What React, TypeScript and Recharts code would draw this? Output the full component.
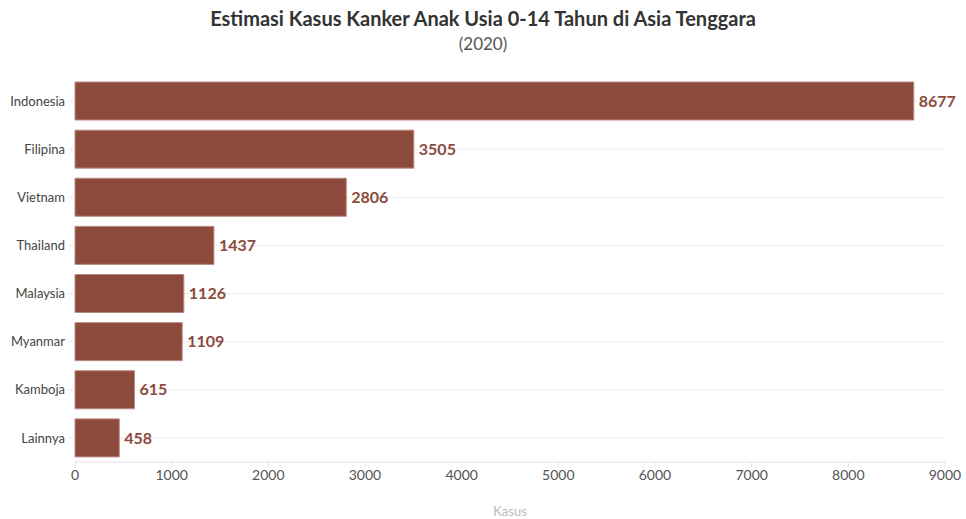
import { Bar, BarChart, CartesianGrid, LabelList, XAxis, YAxis } from "recharts";

const negara = ["Indonesia", "Filipina", "Vietnam", "Thailand", "Malaysia", "Myanmar", "Kamboja", "Lainnya"];
const kasus = [8677, 3505, 2806, 1437, 1126, 1109, 615, 458];
const xTicks = [0, 1000, 2000, 3000, 4000, 5000, 6000, 7000, 8000, 9000];

const data = negara.map((n, i) => ({ negara: n, kasus: kasus[i] }));

const font = "'Source Sans Pro', Lato, 'Noto Sans', sans-serif";
const warna = "#8c4a3d";

// garis grid hanya di tengah tiap kategori (tanpa garis di tepi atas)
const gridY = ({ offset }: any) => {
  if (!offset) return [];
  const band = offset.height / negara.length;
  return negara.map((_, i) => offset.top + band * (i + 0.5));
};

export default function App() {
  return (
    <div style={{ position: "absolute", left: 0, top: 0, width: 966, height: 519, fontFamily: font, background: "#fff" }}>
      <div style={{ position: "absolute", top: 6, left: 0, width: 966, textAlign: "center", fontSize: 20, fontWeight: 700, color: "#333" }}>
        Estimasi Kasus Kanker Anak Usia 0-14 Tahun di Asia Tenggara
      </div>
      <div style={{ position: "absolute", top: 33, left: 0, width: 966, textAlign: "center", fontSize: 17, color: "#555" }}>
        (2020)
      </div>
      <BarChart
        width={966}
        height={519}
        data={data}
        layout="vertical"
        margin={{ top: 77, right: 21, bottom: 0, left: 0 }}
        barSize={38}
      >
        <CartesianGrid horizontal vertical={false} stroke="#ececec" horizontalCoordinatesGenerator={gridY} />
        <XAxis
          type="number"
          domain={[0, 9000]}
          ticks={xTicks}
          height={57}
          tick={{ fontSize: 14, fill: "#555", fontFamily: font }}
          tickLine={{ stroke: "#e3e3e3" }}
          axisLine={{ stroke: "#e3e3e3" }}
          tickSize={6}
          tickMargin={2}
          label={{ value: "Kasus", position: "insideBottom", offset: 3, fill: "#bbb", fontSize: 13, fontFamily: font }}
        />
        <YAxis
          type="category"
          dataKey="negara"
          width={75}
          axisLine={false}
          tickLine={{ stroke: "#e3e3e3" }}
          tickSize={6}
          tickMargin={4}
          tick={{ fontSize: 13, fill: "#444", fontFamily: font }}
        />
        <Bar dataKey="kasus" fill={warna} stroke="#b98a80" strokeWidth={1} isAnimationActive={false}>
          <LabelList dataKey="kasus" position="right" offset={5} fill={warna} fontSize={16} fontWeight={700} fontFamily={font} />
        </Bar>
      </BarChart>
    </div>
  );
}
